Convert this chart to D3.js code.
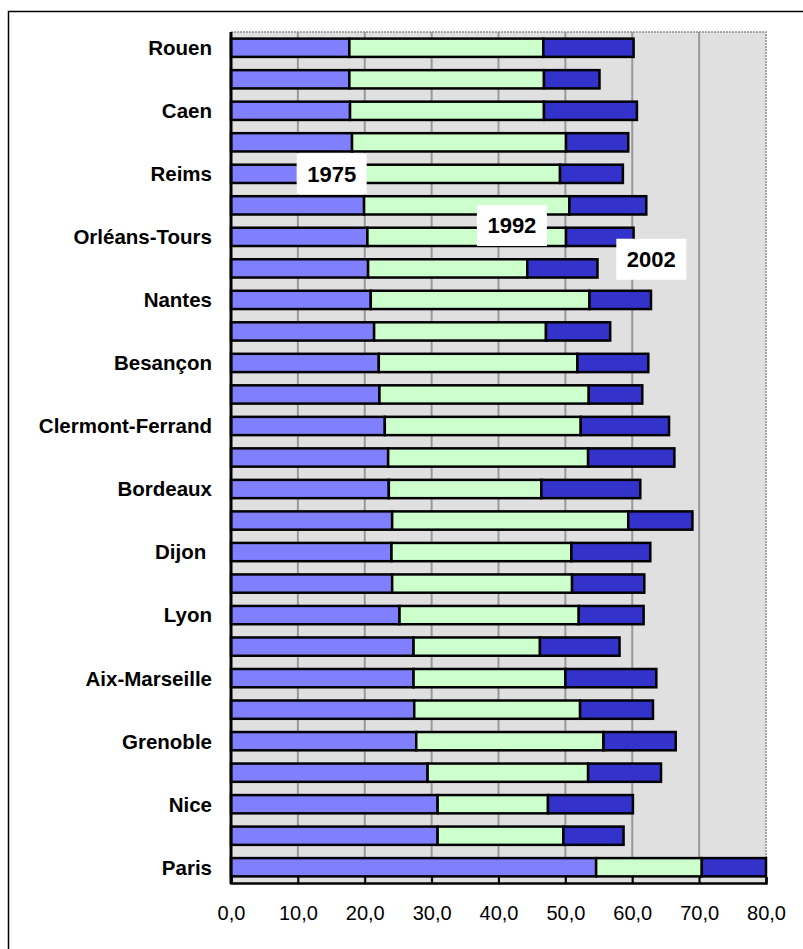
<!DOCTYPE html>
<html>
<head>
<meta charset="utf-8">
<script src="https://cdn.jsdelivr.net/npm/d3@7"></script>
<style>
  html, body { margin: 0; padding: 0; background: #ffffff; }
  svg { display: block; }
  text { font-family: "Liberation Sans", Arial, sans-serif; }
</style>
</head>
<body>
<svg id="chart" width="803" height="949"></svg>
<script>
// ---- data ----
const categories = ["Rouen", "", "Caen", "", "Reims", "", "Orléans-Tours", "", "Nantes", "",
  "Besançon", "", "Clermont-Ferrand", "", "Bordeaux", "", "Dijon ", "", "Lyon", "",
  "Aix-Marseille", "", "Grenoble", "", "Nice", "", "Paris"];
const series = ["1975", "1992", "2002"];
// cumulative level reached at each year
const v1975 = [17.7, 17.7, 17.8, 18.1, 18.9, 19.9, 20.4, 20.5, 20.9, 21.4, 22.1, 22.2, 23.0, 23.5,
  23.6, 24.1, 24.0, 24.1, 25.2, 27.3, 27.3, 27.4, 27.7, 29.4, 30.9, 30.9, 54.6];
const v1992 = [46.7, 46.8, 46.8, 50.1, 49.2, 50.6, 50.1, 44.3, 53.6, 47.1, 51.8, 53.5, 52.3, 53.4,
  46.4, 59.4, 50.9, 51.0, 52.0, 46.2, 50.0, 52.2, 55.7, 53.4, 47.4, 49.7, 70.4];
const v2002 = [60.2, 55.1, 60.7, 59.4, 58.6, 62.1, 60.2, 54.8, 62.8, 56.7, 62.4, 61.5, 65.5, 66.3,
  61.2, 69.0, 62.7, 61.8, 61.7, 58.1, 63.6, 63.1, 66.5, 64.3, 60.1, 58.7, 80.0];
const xTicks = [0, 10, 20, 30, 40, 50, 60, 70, 80];
const seriesColors = ["#8080ff", "#ccffcc", "#3333cc"];
// annotation positions: [label, x value, row position (fractional index)]
const annotations = [["1975", 15.05, 4.0], ["1992", 42.0, 5.64], ["2002", 62.85, 6.71]];

// ---- layout ----
const svg = d3.select("#chart");
const pLeft = 231, pRight = 766, pTop = 32, pBottom = 883;

const x = d3.scaleLinear().domain([0, 80]).range([pLeft, pRight]);
const y = d3.scaleBand().domain(d3.range(categories.length)).range([pTop, pBottom])
  .paddingInner(0.42).paddingOuter(0.21);
const rowStep = y.step();
const rowCenter = i => pTop + rowStep * (i + 0.5);

// outer frame
svg.append("rect").attr("x", 8.5).attr("y", 11.5).attr("width", 820).attr("height", 960)
  .attr("fill", "none").attr("stroke", "#000").attr("stroke-width", 1.5);

// plot background
svg.append("rect").attr("x", pLeft).attr("y", pTop).attr("width", pRight - pLeft).attr("height", pBottom - pTop)
  .attr("fill", "#e0e0e0");

// gridlines
svg.append("g").selectAll("line").data(xTicks.filter(d => d > 0 && d < 80)).join("line")
  .attr("x1", d => x(d)).attr("x2", d => x(d)).attr("y1", pTop).attr("y2", pBottom)
  .attr("stroke", "#999999").attr("stroke-width", 2);

// dotted top & right border
svg.append("path")
  .attr("d", `M${pLeft},${pTop}H${pRight}V${pBottom}`)
  .attr("fill", "none").attr("stroke", "#8c8c8c").attr("stroke-width", 1.5).attr("stroke-dasharray", "2,1");

// bars
const segs = [];
categories.forEach((c, i) => {
  const levels = [0, v1975[i], v1992[i], v2002[i]];
  for (let s = 0; s < 3; s++) segs.push({ i, s, x0: levels[s], x1: levels[s + 1] });
});
svg.append("g").selectAll("rect").data(segs).join("rect")
  .attr("x", d => x(d.x0)).attr("width", d => x(d.x1) - x(d.x0))
  .attr("y", d => y(d.i)).attr("height", y.bandwidth())
  .attr("fill", d => seriesColors[d.s])
  .attr("stroke", "#000").attr("stroke-width", 2.5);

// x axis
const xAxis = d3.axisBottom(x).tickValues(xTicks).tickSize(-6).tickPadding(23)
  .tickFormat(d => d3.format(".1f")(d).replace(".", ","));
const gx = svg.append("g").attr("transform", `translate(0,${pBottom})`).call(xAxis);
gx.select(".domain").attr("stroke", "#000").attr("stroke-width", 2.5);
gx.selectAll(".tick line").attr("stroke", "#000").attr("stroke-width", 2);
gx.selectAll(".tick text").attr("font-size", 20).attr("fill", "#000")
  .attr("font-family", "'Liberation Sans', Arial, sans-serif");

// left axis line
svg.append("line").attr("x1", pLeft).attr("x2", pLeft).attr("y1", pTop).attr("y2", pBottom + 1)
  .attr("stroke", "#000").attr("stroke-width", 3);

// category labels
svg.append("g").selectAll("text").data(categories).join("text")
  .attr("x", 212).attr("y", (d, i) => rowCenter(i)).attr("dy", "0.36em")
  .attr("text-anchor", "end").attr("font-size", 20.5).attr("font-weight", "bold")
  .style("white-space", "pre")
  .text(d => d);

// annotations
const ann = svg.append("g").selectAll("g").data(annotations).join("g")
  .attr("transform", d => `translate(${x(d[1])},${pTop + rowStep * (d[2] + 0.5)})`);
ann.append("rect").attr("x", -35).attr("y", -20.5).attr("width", 70).attr("height", 41).attr("fill", "#fff");
ann.append("text").attr("text-anchor", "middle").attr("dy", "0.36em")
  .attr("font-size", 22).attr("font-weight", "bold").text(d => d[0]);
</script>
</body>
</html>
